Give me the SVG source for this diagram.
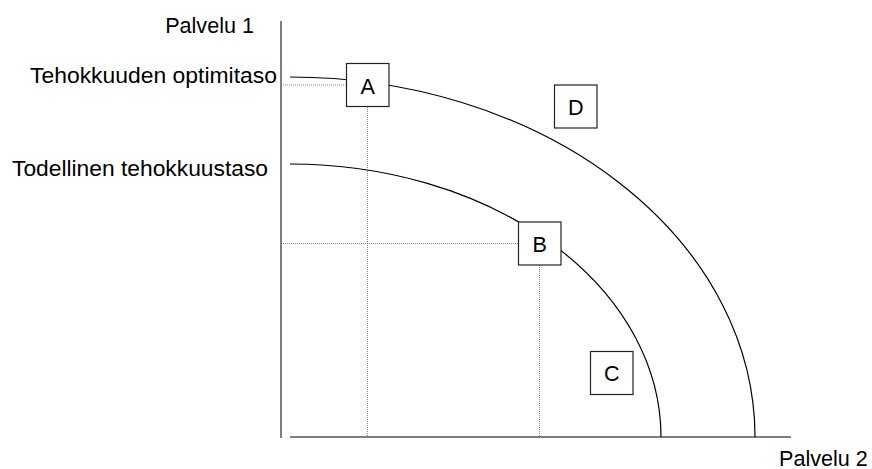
<svg xmlns="http://www.w3.org/2000/svg" width="872" height="469" viewBox="0 0 872 469">
  <style>
    .axis { stroke: #555; stroke-width: 1.5; fill: none; }
    .curve { stroke: #000; stroke-width: 1.2; fill: none; }
    .guide { stroke: #888; stroke-width: 1; stroke-dasharray: 1 1; fill: none; }
    .box { fill: #fff; stroke: #222; stroke-width: 1.2; }
    .lbl { font-family: "Liberation Sans", Arial, sans-serif; font-size: 21.6px; fill: #000; }
    .big { font-size: 22.4px; }
    .mid { text-anchor: middle; }
    .end { text-anchor: end; }
  </style>

  <!-- axes -->
  <g id="axes">
    <line class="axis" x1="281" y1="21" x2="281" y2="438"/>
    <line class="axis" x1="290" y1="437" x2="791" y2="437"/>
  </g>

  <!-- frontier curves and guide lines -->
  <g id="connectors">
    <path class="curve" d="M290,77 A465,360 0 0 1 755,437"/>
    <path class="curve" d="M290,164 A371,273 0 0 1 661,437"/>
    <line class="guide" x1="281" y1="85" x2="346" y2="85"/>
    <line class="guide" x1="367.5" y1="107" x2="367.5" y2="437"/>
    <line class="guide" x1="281" y1="243.5" x2="518" y2="243.5"/>
    <line class="guide" x1="539.5" y1="265" x2="539.5" y2="437"/>
  </g>

  <!-- axis and level labels -->
  <g id="labels">
    <text class="lbl end" x="254" y="32.5">Palvelu 1</text>
    <text class="lbl big" x="30" y="82.5" textLength="247" lengthAdjust="spacingAndGlyphs">Tehokkuuden optimitaso</text>
    <text class="lbl big" x="12" y="175.5" textLength="256" lengthAdjust="spacingAndGlyphs">Todellinen tehokkuustaso</text>
    <text class="lbl" x="779" y="465.5">Palvelu 2</text>
  </g>

  <g id="nodeA">
    <rect class="box" x="346.5" y="63.5" width="42.5" height="43"/>
    <text class="lbl mid" x="367.8" y="93.5">A</text>
  </g>
  <g id="nodeB">
    <rect class="box" x="518.5" y="222" width="42.5" height="43"/>
    <text class="lbl mid" x="539.8" y="251.5">B</text>
  </g>
  <g id="nodeC">
    <rect class="box" x="590.5" y="351.5" width="42.5" height="43"/>
    <text class="lbl mid" x="611.8" y="381">C</text>
  </g>
  <g id="nodeD">
    <rect class="box" x="554.5" y="85" width="42.5" height="43"/>
    <text class="lbl mid" x="575.8" y="114.5">D</text>
  </g>
</svg>
